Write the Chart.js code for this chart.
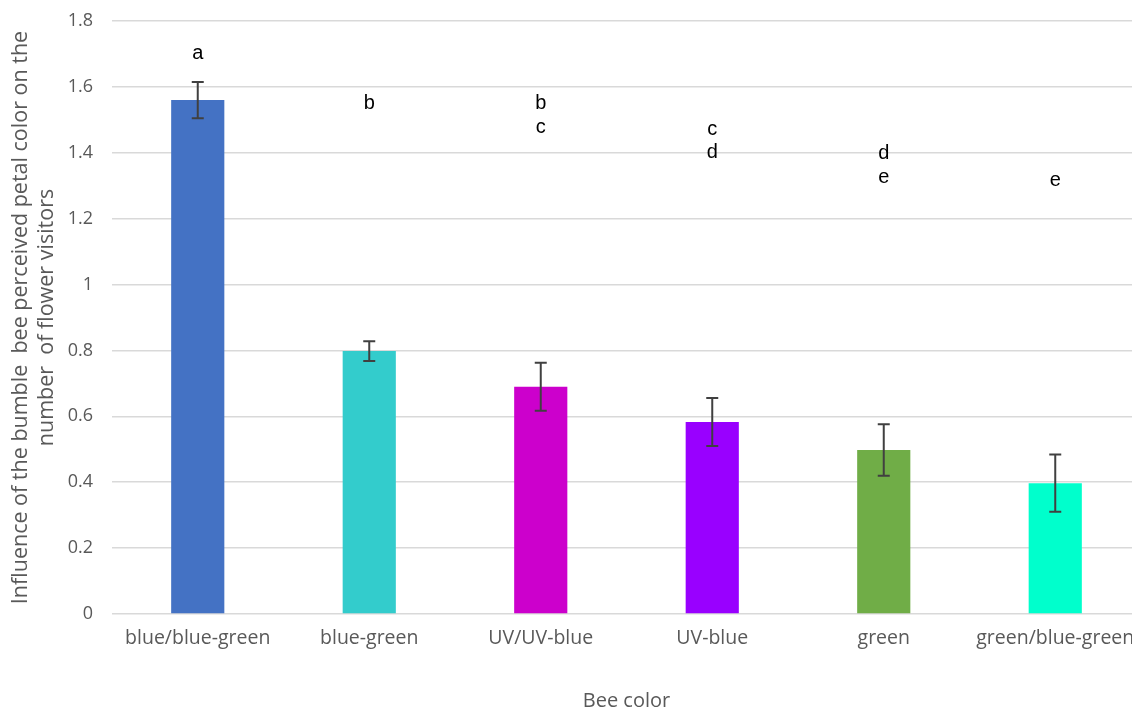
<!DOCTYPE html>
<html>
<head>
<meta charset="utf-8">
<script src="https://cdn.jsdelivr.net/npm/chart.js@4/dist/chart.umd.min.js"></script>
<style>
  html, body { margin: 0; padding: 0; background: #fff; overflow: hidden; }
  #wrap { width: 1141px; height: 709px; }
</style>
</head>
<body>
<div id="wrap"><canvas id="c" width="1141" height="709"></canvas></div>
<script>
// Bee-perceived petal colour categories
const categories = ["blue/blue-green", "blue-green", "UV/UV-blue", "UV-blue", "green", "green/blue-green"];
// Mean influence on the number of flower visitors
const means = [1.560, 0.798, 0.690, 0.583, 0.498, 0.397];
// Standard errors (symmetric)
const errors = [0.055, 0.030, 0.073, 0.073, 0.078, 0.087];
// Bar fill colours
const barColors = ["#4472C4", "#33CCCC", "#CC00CC", "#9900FF", "#70AD47", "#00FFCC"];
// Significance letters per category and the value height they sit at
const letters = [["a"], ["b"], ["b", "c"], ["c", "d"], ["d", "e"], ["e"]];
const letterHeights = [[1.700], [1.550], [1.550, 1.476], [1.472, 1.400], [1.398, 1.325], [1.316]];

const errorBarPlugin = {
  id: "errorBars",
  afterDatasetsDraw(chart) {
    const ctx = chart.ctx;
    const meta = chart.getDatasetMeta(0);
    const y = chart.scales.y;
    ctx.save();
    ctx.strokeStyle = "#404040";
    ctx.lineWidth = 2;
    meta.data.forEach((bar, i) => {
      const x = bar.x;
      const top = y.getPixelForValue(means[i] + errors[i]);
      const bot = y.getPixelForValue(means[i] - errors[i]);
      ctx.beginPath();
      ctx.moveTo(x, top); ctx.lineTo(x, bot);
      ctx.moveTo(x - 6, top); ctx.lineTo(x + 6, top);
      ctx.moveTo(x - 6, bot); ctx.lineTo(x + 6, bot);
      ctx.stroke();
    });
    ctx.restore();
  }
};

const letterPlugin = {
  id: "sigLetters",
  afterDatasetsDraw(chart) {
    const ctx = chart.ctx;
    const meta = chart.getDatasetMeta(0);
    const y = chart.scales.y;
    ctx.save();
    ctx.fillStyle = "#000";
    ctx.font = "20px 'Liberation Sans', Arial, sans-serif";
    ctx.textAlign = "center";
    ctx.textBaseline = "middle";
    meta.data.forEach((bar, i) => {
      letters[i].forEach((t, k) => {
        ctx.fillText(t, bar.x, y.getPixelForValue(letterHeights[i][k]));
      });
    });
    ctx.restore();
  }
};

new Chart(document.getElementById("c"), {
  type: "bar",
  data: {
    labels: categories,
    datasets: [{
      data: means,
      backgroundColor: barColors,
      borderWidth: 0,
      barPercentage: 1,
      categoryPercentage: 0.31
    }]
  },
  options: {
    responsive: false,
    animation: false,
    layout: { padding: { top: 21, left: 0, right: 0, bottom: 0 } },
    plugins: { legend: { display: false }, tooltip: { enabled: false } },
    scales: {
      x: {
        grid: { display: false, drawTicks: false },
        border: { display: false },
        ticks: {
          color: "#595959",
          font: { family: "'Open Sans', sans-serif", size: 19.5 },
          padding: 13,
          maxRotation: 0,
          autoSkip: false
        },
        title: {
          display: true,
          text: "Bee color",
          color: "#595959",
          font: { family: "'Open Sans', sans-serif", size: 20 },
          padding: { top: 30, bottom: -4 }
        },
        afterFit(s) { s.height = 95; s.paddingLeft = 0; s.paddingRight = 0; }
      },
      y: {
        min: 0,
        max: 1.8,
        ticks: {
          stepSize: 0.2,
          color: "#595959",
          font: { family: "'Open Sans', sans-serif", size: 18 },
          padding: 19,
          callback: v => String(Math.round(v * 10) / 10)
        },
        grid: { color: "#d9d9d9", lineWidth: 1.5, drawTicks: false },
        border: { display: false },
        title: {
          display: true,
          text: ["Influence of the bumble  bee perceived petal color on the", "number  of flower visitors"],
          color: "#595959",
          font: { family: "'Open Sans', sans-serif", size: 21.5, lineHeight: 1.25 },
          padding: { top: 7, bottom: 0 }
        },
        afterFit(s) { s.width = 112; s.paddingTop = 0; s.paddingBottom = 0; }
      }
    }
  },
  plugins: [errorBarPlugin, letterPlugin]
});
</script>
</body>
</html>
